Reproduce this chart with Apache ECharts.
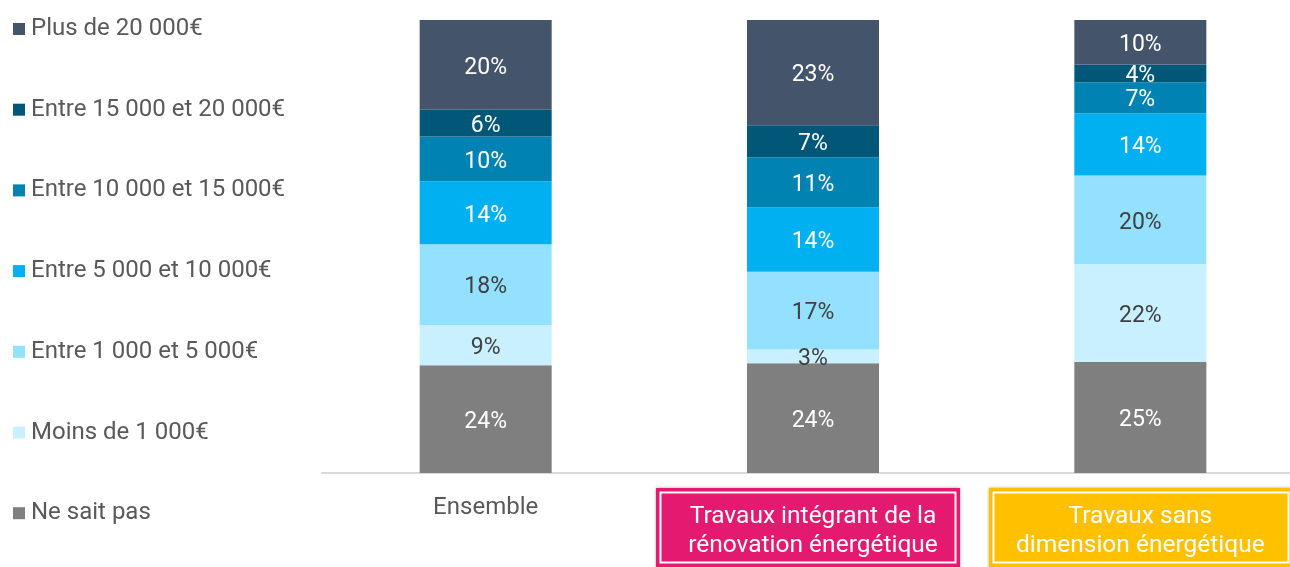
<!DOCTYPE html>
<html>
<head>
<meta charset="utf-8">
<script src="https://cdn.jsdelivr.net/npm/echarts@6/dist/echarts.min.js"></script>
<style>
  html, body { margin: 0; padding: 0; background: #fff; }
  #chart { width: 1290px; height: 567px; }
</style>
</head>
<body>
<div id="chart"></div>
<script>
const categories = ["Ensemble", "Travaux intégrant de la\nrénovation énergétique", "Travaux sans\ndimension énergétique"];

// bottom to top of the stack
const seriesNames = ["Ne sait pas", "Moins de 1 000€", "Entre 1 000 et 5 000€", "Entre 5 000 et 10 000€",
  "Entre 10 000 et 15 000€", "Entre 15 000 et 20 000€", "Plus de 20 000€"];
const neSaitPas = [24, 24, 25];
const moins1000 = [9, 3, 22];
const de1000a5000 = [18, 17, 20];
const de5000a10000 = [14, 14, 14];
const de10000a15000 = [10, 11, 7];
const de15000a20000 = [6, 7, 4];
const plus20000 = [20, 23, 10];

const values = [neSaitPas, moins1000, de1000a5000, de5000a10000, de10000a15000, de15000a20000, plus20000];
const colors = ["#7F7F7F", "#C9F0FF", "#93E1FF", "#00B0F0", "#0083B3", "#005778", "#44546A"];
const labelColors = ["#fff", "#404040", "#404040", "#fff", "#fff", "#fff", "#fff"];

// 100% stacked: each column is scaled to its own total
const totals = categories.map((c, i) => values.reduce((s, arr) => s + arr[i], 0));

const chart = echarts.init(document.getElementById("chart"));

const series = seriesNames.map((name, k) => ({
  name: name,
  type: "bar",
  stack: "total",
  barWidth: 132,
  itemStyle: { color: colors[k] },
  label: {
    show: true,
    position: "inside",
    offset: [0, 3],
    color: labelColors[k],
    fontFamily: "Roboto",
    fontSize: 23,
    formatter: (p) => values[k][p.dataIndex] + "%"
  },
  data: values[k].map((v, i) => v / totals[i] * 100)
}));

chart.setOption({
  animation: false,
  textStyle: { fontFamily: "Roboto" },
  legend: {
    orient: "vertical",
    left: 8,
    top: 12,
    itemWidth: 12,
    itemHeight: 12,
    itemGap: 56.7,
    icon: "rect",
    data: seriesNames.slice().reverse(),
    textStyle: { color: "#595959", fontSize: 24, lineHeight: 24, fontFamily: "Roboto", padding: [0, 0, 0, 1] }
  },
  grid: { left: 322, top: 20, width: 982, bottom: 94, outerBoundsMode: "none" },
  xAxis: {
    type: "category",
    data: [
      { value: categories[0], textStyle: { color: "#595959", fontSize: 24, lineHeight: 28 } },
      { value: categories[1], textStyle: { color: "#fff", fontSize: 24.5, lineHeight: 29, padding: [8, 0, 0, 0] } },
      { value: categories[2], textStyle: { color: "#fff", fontSize: 24.5, lineHeight: 29, padding: [8, 0, 0, 0] } }
    ],
    axisLine: { lineStyle: { color: "#D9D9D9", width: 2 } },
    axisTick: { show: false },
    axisLabel: { margin: 21, verticalAlign: "top", fontFamily: "Roboto", interval: 0 }
  },
  yAxis: { type: "value", min: 0, max: 100, show: false },
  graphic: [
    { type: "rect", z: -1, shape: { x: 656, y: 488, width: 304, height: 84 },
      style: { fill: "#E31A6F", shadowBlur: 3, shadowColor: "rgba(0,0,0,0.35)" } },
    { type: "rect", z: -1, shape: { x: 660.5, y: 492.5, width: 295, height: 70 },
      style: { fill: "none", stroke: "#fff", lineWidth: 2 } },
    { type: "rect", z: -1, shape: { x: 989, y: 488, width: 304, height: 84 },
      style: { fill: "#FFC000", shadowBlur: 3, shadowColor: "rgba(0,0,0,0.35)" } },
    { type: "rect", z: -1, shape: { x: 993.5, y: 492.5, width: 295, height: 70 },
      style: { fill: "none", stroke: "#fff", lineWidth: 2 } }
  ],
  series: series
});
</script>
</body>
</html>
